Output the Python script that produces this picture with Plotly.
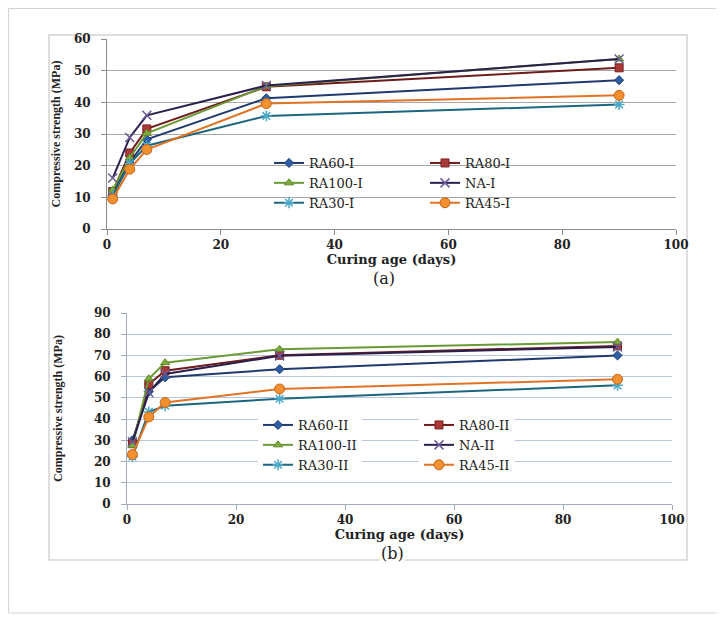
import plotly.graph_objects as go

days = [1, 4, 7, 28, 90]

series_names_I = ["RA60-I", "RA80-I", "RA100-I", "NA-I", "RA30-I", "RA45-I"]
RA60_I = [11.6, 21.0, 28.3, 41.3, 47.0]
RA80_I = [11.8, 24.0, 31.6, 44.9, 50.9]
RA100_I = [12.3, 22.5, 30.2, 45.1, 53.7]
NA_I = [16.1, 28.9, 35.9, 45.3, 53.7]
RA30_I = [10.5, 20.7, 26.3, 35.7, 39.3]
RA45_I = [9.5, 18.9, 25.1, 39.6, 42.2]

series_names_II = ["RA60-II", "RA80-II", "RA100-II", "NA-II", "RA30-II", "RA45-II"]
RA60_II = [30.0, 53.0, 59.7, 63.5, 70.0]
RA80_II = [28.4, 56.4, 62.8, 70.1, 74.5]
RA100_II = [27.6, 59.0, 66.6, 72.9, 76.3]
NA_II = [29.3, 52.5, 61.3, 69.8, 74.0]
RA30_II = [22.3, 43.4, 46.3, 49.6, 55.9]
RA45_II = [23.3, 41.0, 47.8, 54.2, 58.8]

x_ticks = [0, 20, 40, 60, 80, 100]
y_ticks_a = [0, 10, 20, 30, 40, 50, 60]
y_ticks_b = [0, 10, 20, 30, 40, 50, 60, 70, 80, 90]

styles = [
    dict(line="#1f3a6e", fill="#2c5ea6", edge="#1f3a6e", symbol="diamond", size=7),
    dict(line="#6e1b1b", fill="#a93a38", edge="#7a1e1e", symbol="square", size=8),
    dict(line="#6a9a34", fill="#7fab3e", edge="#5e8a2a", symbol="triangle-up", size=8),
    dict(line="#2b1f4e", fill="#6b5b95", edge="#6b5b95", symbol="x-thin-open", size=9),
    dict(line="#1c6580", fill="#4aa8c8", edge="#4aa8c8", symbol="asterisk-open", size=9),
    dict(line="#e07424", fill="#f0902f", edge="#c8641a", symbol="circle", size=10),
]

W, H = 724, 617
OFF = 8  # the page body margin shifts the figure by this many pixels

def px(xp):
    return (xp - OFF) / W
def py(yp):
    return 1 - (yp - OFF) / H

fig = go.Figure()

top_data = [RA60_I, RA80_I, RA100_I, NA_I, RA30_I, RA45_I]
bot_data = [RA60_II, RA80_II, RA100_II, NA_II, RA30_II, RA45_II]
top_legends = ["legend", "legend2", "legend", "legend2", "legend", "legend2"]
bot_legends = ["legend3", "legend4", "legend3", "legend4", "legend3", "legend4"]

for name, vals, st, lg in zip(series_names_I, top_data, styles, top_legends):
    open_sym = st["symbol"].endswith("open")
    fig.add_trace(go.Scatter(
        x=days, y=vals, name=name, mode="lines+markers",
        xaxis="x", yaxis="y", legend=lg,
        line=dict(color=st["line"], width=2),
        marker=dict(symbol=st["symbol"], size=st["size"], color=st["fill"],
                    line=dict(color=st["edge"], width=1.5 if open_sym else 1)),
    ))

for name, vals, st, lg in zip(series_names_II, bot_data, styles, bot_legends):
    open_sym = st["symbol"].endswith("open")
    fig.add_trace(go.Scatter(
        x=days, y=vals, name=name, mode="lines+markers",
        xaxis="x2", yaxis="y2", legend=lg,
        line=dict(color=st["line"], width=2),
        marker=dict(symbol=st["symbol"], size=st["size"], color=st["fill"],
                    line=dict(color=st["edge"], width=1.5 if open_sym else 1)),
    ))

tick_font = dict(family="DejaVu Serif", size=12, color="#222222", weight="bold")
xtitle_font = dict(family="DejaVu Serif", size=13, color="#222222", weight="bold")
ytitle_font = dict(family="Liberation Serif", size=12, color="#222222", weight="bold")
legend_font = dict(family="DejaVu Serif", size=13, color="#222222")

common_x = dict(range=[0, 100], tickvals=x_ticks, ticks="outside", ticklen=5,
                showgrid=False, zeroline=False, showline=True, tickfont=tick_font,
                automargin=False,
                title=dict(text="Curing age (days)", font=xtitle_font, standoff=0))

fig.update_layout(
    width=W, height=H,
    margin=dict(l=0, r=0, t=0, b=0, autoexpand=False),
    paper_bgcolor="white", plot_bgcolor="rgba(0,0,0,0)",
    xaxis=dict(domain=[px(107), px(676)], anchor="y", linecolor="#8c8c8c",
               tickcolor="#8c8c8c", **common_x),
    yaxis=dict(domain=[py(229), py(39)], anchor="x", range=[0, 60], tickvals=y_ticks_a,
               ticks="outside", ticklen=5, tickcolor="#8c8c8c", showline=True,
               linecolor="#8c8c8c", showgrid=True, gridcolor="#a8a8a8", gridwidth=1,
               zeroline=False, tickfont=tick_font, ticklabelstandoff=8, automargin=False,
               title=dict(text="Compressive strength (MPa)", font=ytitle_font, standoff=10)),
    xaxis2=dict(domain=[px(127), px(672)], anchor="y2", linecolor="#a3acbd",
                tickcolor="#a3acbd", **common_x),
    yaxis2=dict(domain=[py(504), py(313)], anchor="x2", range=[0, 90], tickvals=y_ticks_b,
                ticks="outside", ticklen=5, tickcolor="#a3acbd", showline=True,
                linecolor="#a3acbd", showgrid=True, gridcolor="#b8c6dd", gridwidth=1,
                zeroline=False, tickfont=tick_font, ticklabelstandoff=8, automargin=False,
                title=dict(text="Compressive strength (MPa)", font=ytitle_font, standoff=28)),
    legend=dict(x=px(269), y=py(148), xanchor="left", yanchor="top",
                bgcolor="rgba(0,0,0,0)", font=legend_font, tracegroupgap=0),
    legend2=dict(x=px(425), y=py(148), xanchor="left", yanchor="top",
                 bgcolor="rgba(0,0,0,0)", font=legend_font, tracegroupgap=0),
    legend3=dict(x=px(258), y=py(410), xanchor="left", yanchor="top",
                 bgcolor="white", font=legend_font, tracegroupgap=0),
    legend4=dict(x=px(419), y=py(410), xanchor="left", yanchor="top",
                 bgcolor="white", font=legend_font, tracegroupgap=0),
    shapes=[
        dict(type="rect", xref="paper", yref="paper", x0=px(8.5), x1=px(719), y0=py(613), y1=py(8.5),
             line=dict(color="#d4d4d4", width=1), layer="below"),
        dict(type="rect", xref="paper", yref="paper", x0=px(49), x1=px(687), y0=py(560), y1=py(35),
             line=dict(color="#d4d4d4", width=1.5), layer="below"),
    ],
    annotations=[
        dict(text="(a)", xref="paper", yref="paper", x=px(384), y=py(278), showarrow=False,
             xanchor="center", yanchor="middle",
             font=dict(family="DejaVu Serif", size=16, color="#222222")),
        dict(text="(b)", xref="paper", yref="paper", x=px(392), y=py(553), showarrow=False,
             xanchor="center", yanchor="middle", bgcolor="white",
             font=dict(family="DejaVu Serif", size=16, color="#222222")),
    ],
)

fig.write_html("out.html")
